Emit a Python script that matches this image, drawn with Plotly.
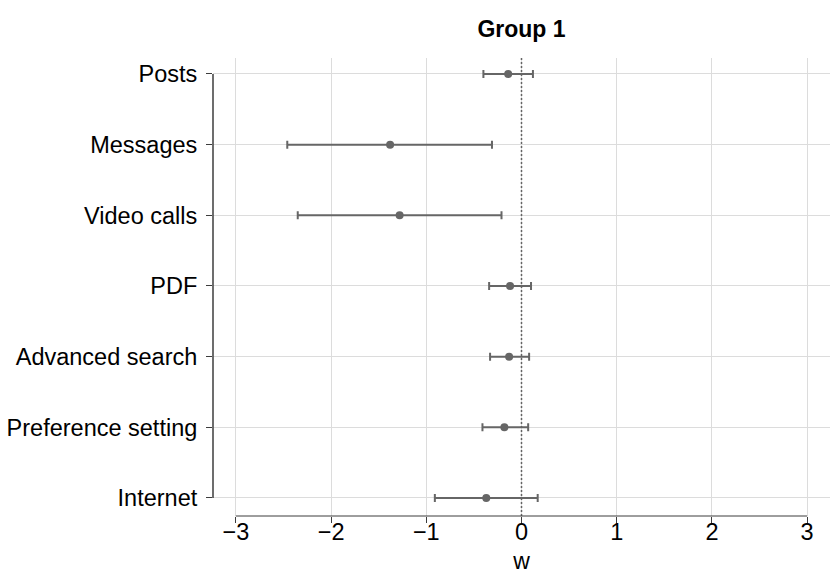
import plotly.graph_objects as go

categories = ["Posts", "Messages", "Video calls", "PDF", "Advanced search",
              "Preference setting", "Internet"]
estimates = [-0.14, -1.38, -1.28, -0.12, -0.13, -0.18, -0.37]
ci_low = [-0.40, -2.46, -2.35, -0.34, -0.33, -0.41, -0.91]
ci_high = [0.12, -0.31, -0.21, 0.10, 0.08, 0.07, 0.17]
x_ticks = [-3, -2, -1, 0, 1, 2, 3]

n = len(categories)
ypos = [n - 1 - i for i in range(n)]

grey = "rgb(102,102,102)"
fig = go.Figure()
fig.add_trace(go.Scatter(
    x=estimates, y=ypos, mode="markers",
    marker=dict(color=grey, size=8),
    error_x=dict(type="data", symmetric=False,
                 array=[h - e for h, e in zip(ci_high, estimates)],
                 arrayminus=[e - l for e, l in zip(estimates, ci_low)],
                 color=grey, thickness=2, width=4),
    showlegend=False, cliponaxis=False,
))

# zero reference line
fig.add_shape(type="line", xref="x", yref="paper", x0=0, x1=0, y0=0, y1=1,
              line=dict(color="rgb(100,100,100)", width=1.5, dash="2px,2px"), layer="above")
# axis lines limited to data range
fig.add_shape(type="line", xref="x", yref="paper", x0=x_ticks[0], x1=x_ticks[-1], y0=0, y1=0,
              line=dict(color="rgb(60,60,60)", width=1))
fig.add_shape(type="line", xref="paper", yref="y", x0=0, x1=0, y0=ypos[-1], y1=ypos[0],
              line=dict(color="rgb(60,60,60)", width=1.5))

font = "Liberation Sans, Arial, sans-serif"
fig.update_layout(
    width=830, height=588,
    margin=dict(l=213, r=0, t=58, b=72, autoexpand=False),
    plot_bgcolor="white", paper_bgcolor="white",
    title=dict(text="<b>Group 1</b>", x=0.5, xref="paper", y=1 - 29 / 588, yanchor="middle",
               font=dict(family=font, size=23, color="black")),
    xaxis=dict(range=[-3.24, 3.24], tickvals=x_ticks, showgrid=True, automargin=False,
               ticklabelstandoff=-11,
               gridcolor="rgb(220,220,220)", gridwidth=1, zeroline=False, showline=False,
               ticks="outside", ticklen=6, tickcolor="rgb(60,60,60)",
               tickfont=dict(family=font, size=23.5, color="black"),
               title=dict(text="w", font=dict(family=font, size=23, color="black"), standoff=8)),
    yaxis=dict(range=[-0.255, 6.226], tickvals=ypos, ticktext=categories, showgrid=True,
               automargin=False, ticklabelstandoff=4,
               gridcolor="rgb(220,220,220)", gridwidth=1, zeroline=False, showline=False,
               ticks="outside", ticklen=6, tickcolor="rgb(60,60,60)",
               tickfont=dict(family=font, size=23.5, color="black")),
)

fig.write_html("out.html", config={"displayModeBar": False},
               post_script="document.body.style.margin='0';document.body.style.overflow='hidden';")
